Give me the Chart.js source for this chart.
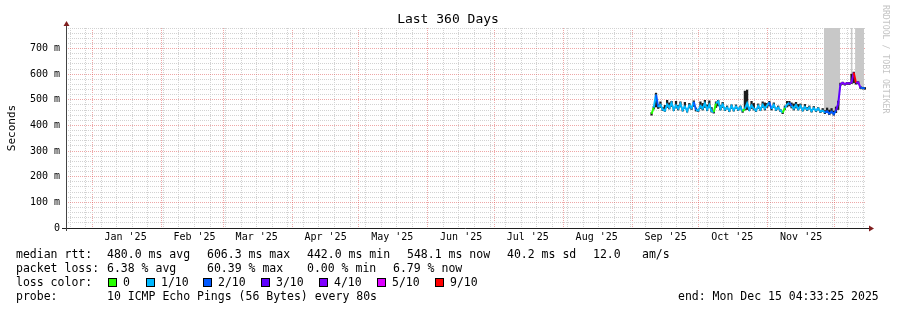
<!DOCTYPE html>
<html>
<head>
<meta charset="utf-8">
<script src="https://cdn.jsdelivr.net/npm/chart.js@4/dist/chart.umd.min.js"></script>
<style>
  html, body { margin: 0; padding: 0; background: #fff; }
  #wrap { width: 897px; height: 310px; }
</style>
</head>
<body>
<div id="wrap"><canvas id="rttChart" width="897" height="310"></canvas></div>
<script>
// ---- data (x = days since window start, y = ms) ----
const sampleDays = [
  263.5, 264.5, 265.5, 266.5, 267.5, 268.5, 269.5, 270.5, 271.5, 272.5,
  273.5, 274.5, 275.5, 276.5, 277.5, 278.5, 279.5, 280.5, 281.5, 282.5,
  283.5, 284.5, 285.5, 286.5, 287.5, 288.5, 289.5, 290.5, 291.5, 292.5,
  293.5, 294.5, 295.5, 296.5, 297.5, 298.5, 299.5, 300.5, 301.5, 302.5,
  303.5, 304.5, 305.5, 306.5, 307.5, 308.5, 309.5, 310.5, 311.5, 312.5,
  313.5, 314.5, 315.5, 316.5, 317.5, 318.5, 319.5, 320.5, 321.5, 322.5,
  323.5, 324.5, 325.5, 326.5, 327.5, 328.5, 329.5, 330.5, 331.5, 332.5,
  333.5, 334.5, 335.5, 336.5, 337.5, 338.5, 339.5, 340.5, 341.5, 342.5,
  343.5, 344.5, 345.5, 346.5, 347.5, 348.5, 349.5, 350.5, 351.5, 352.5,
  353.5, 354.5, 355.5, 356.5, 357.5, 358.5, 359.5
];
const medianRtt = [
  445, 470, 520, 472, 480, 462, 458, 482, 470, 488,
  462, 478, 466, 484, 460, 474, 456, 478, 468, 492,
  460, 458, 476, 466, 486, 462, 480, 456, 452, 486,
  494, 466, 482, 462, 470, 458, 476, 460, 474, 462,
  472, 455, 465, 486, 462, 478, 466, 458, 476, 462,
  480, 466, 478, 490, 464, 480, 462, 470, 458, 450,
  468, 482, 488, 476, 466, 480, 464, 476, 460, 472,
  462, 470, 456, 468, 458, 466, 454, 458, 450, 455,
  446, 454, 444, 458, 485, 562, 566, 561, 565, 563,
  568, 606, 566, 568, 548, 546, 545
];
const smokeLow = [
  440, 464, 472, 466, 470, 458, 455, 470, 464, 474,
  458, 468, 460, 472, 456, 466, 452, 468, 462, 474,
  456, 454, 466, 460, 470, 458, 470, 452, 448, 470,
  476, 460, 470, 458, 464, 454, 466, 456, 466, 458,
  464, 451, 460, 462, 458, 466, 460, 454, 466, 458,
  470, 460, 470, 476, 460, 470, 458, 464, 454, 446,
  462, 472, 476, 468, 460, 468, 460, 468, 456, 464,
  458, 464, 452, 462, 454, 460, 450, 454, 446, 450,
  442, 448, 440, 450, 462, 556, 560, 557, 560, 559,
  563, 566, 561, 562, 544, 542, 541
];
const smokeHigh = [
  450, 474, 526, 480, 492, 470, 478, 498, 488, 494,
  470, 494, 478, 492, 466, 490, 464, 486, 474, 496,
  468, 462, 492, 486, 498, 480, 496, 470, 456, 492,
  498, 478, 490, 468, 476, 462, 480, 466, 480, 468,
  476, 460, 534, 538, 470, 494, 486, 464, 484, 470,
  492, 488, 486, 494, 470, 488, 468, 476, 462, 454,
  476, 494, 494, 488, 484, 490, 482, 484, 468, 482,
  470, 476, 462, 474, 462, 470, 458, 466, 458, 468,
  460, 466, 456, 472, 495, 565, 569, 565, 568, 568,
  600, 608, 570, 571, 552, 549, 548
];
const lossTenths = [
  0, 1, 2, 1, 1, 1, 1, 1, 1, 1,
  1, 1, 1, 1, 1, 1, 1, 1, 1, 2,
  1, 1, 1, 1, 1, 1, 1, 1, 0, 1,
  1, 1, 1, 1, 1, 1, 1, 1, 1, 1,
  1, 0, 1, 1, 1, 1, 1, 1, 1, 1,
  1, 1, 1, 2, 1, 1, 1, 1, 1, 0,
  1, 1, 2, 1, 1, 1, 1, 1, 1, 1,
  1, 1, 1, 1, 1, 1, 1, 1, 2, 2,
  2, 2, 2, 3, 3, 4, 4, 4, 4, 4,
  4, 9, 4, 4, 2, 2, 1
];
// slow-ping smoke that runs off the top of the graph (null = gap)
const overflowDays = [341.1, 342.5, 343.5, 344.5, 345.5, 346.5, 347.5, 348.3, 348.6, 353.1, 354.0, 354.5, 355.1, 356.5, 357.5, 359.1];
const overflowLow  = [456, 451, 449, 453, 447, 459, 470, 480, null, 570, 570, null, 570, 568, 552, 550];

const monthLabels = ["Jan '25", "Feb '25", "Mar '25", "Apr '25", "May '25", "Jun '25",
                     "Jul '25", "Aug '25", "Sep '25", "Oct '25", "Nov '25"];
const yLabelValues = [0, 100, 200, 300, 400, 500, 600, 700];

const lossKeys = ['0', '1/10', '2/10', '3/10', '4/10', '5/10', '9/10'];
const lossKeyColors = ['#26ff00', '#00b8ff', '#0059ff', '#5e00ff', '#7e00ff', '#dd00ff', '#ff0000'];

function lossColor(n) {
  if (n >= 9) return lossKeyColors[6];
  if (n >= 5) return lossKeyColors[5];
  return lossKeyColors[n];
}

// ---- time axis helpers ----
const DAY = 86400000;
const windowStart = Date.UTC(2024, 11, 20, 4, 33, 25);
const dayOf = t => (t - windowStart) / DAY;

function buildXTicks() {
  const items = [];
  for (let m = 0; m < 12; m++) items.push({ value: dayOf(Date.UTC(2025, m, 1)), kind: 'month', label: '' });
  monthLabels.forEach((lab, m) => items.push({ value: dayOf(Date.UTC(2025, m, 16)), kind: 'label', label: lab }));
  for (let t = Date.UTC(2024, 11, 22); dayOf(t) <= 360; t += 7 * DAY) {
    const v = dayOf(t);
    if (!items.some(it => it.kind === 'month' && Math.abs(it.value - v) < 1e-6)) {
      items.push({ value: v, kind: 'week', label: '' });
    }
  }
  return items.filter(it => it.value >= 0 && it.value <= 360).sort((a, b) => a.value - b.value);
}
const xTicks = buildXTicks();

const yTicks = [];
for (let v = 0; v <= 780; v += 20) yTicks.push(v);

const MONO = 'DejaVu Sans Mono';
const MINOR = '#d2d2d2';
const MAJOR = 'rgba(222,79,79,0.5)';

// ---- text, axes and arrows the way rrdtool draws them ----
const rrdDecor = {
  id: 'rrdDecor',
  beforeDraw(chart) {
    const c = chart.ctx;
    c.save();
    c.fillStyle = '#fff';
    c.fillRect(0, 0, chart.width, chart.height);
    c.restore();
  },
  afterDraw(chart) {
    const c = chart.ctx;
    const a = chart.chartArea;
    c.save();

    // axes
    c.lineWidth = 1;
    c.strokeStyle = '#1f1f1f';
    c.beginPath();
    c.moveTo(a.left - 4, a.bottom + 0.5);
    c.lineTo(a.right + 3, a.bottom + 0.5);
    c.stroke();
    c.strokeStyle = '#444';
    c.beginPath();
    c.moveTo(a.left + 0.5, a.bottom + 3);
    c.lineTo(a.left + 0.5, a.top - 3);
    c.stroke();
    c.fillStyle = '#801f1f';
    c.beginPath();
    c.moveTo(a.left - 2.5, a.top - 2);
    c.lineTo(a.left + 3.5, a.top - 2);
    c.lineTo(a.left + 0.5, a.top - 7);
    c.closePath();
    c.fill();
    c.beginPath();
    c.moveTo(a.right + 3, a.bottom - 2.5);
    c.lineTo(a.right + 3, a.bottom + 3.5);
    c.lineTo(a.right + 8, a.bottom + 0.5);
    c.closePath();
    c.fill();

    // title
    c.fillStyle = '#000';
    c.font = '13px ' + MONO;
    c.textAlign = 'center';
    c.textBaseline = 'alphabetic';
    c.fillText('Last 360 Days', 448, 23);

    // y axis title
    c.save();
    c.font = '11px ' + MONO;
    c.translate(14.5, 128);
    c.rotate(-Math.PI / 2);
    c.textBaseline = 'alphabetic';
    c.fillText('Seconds', 0, 0);
    c.restore();

    // watermark
    c.save();
    c.font = '8.2px ' + MONO;
    c.fillStyle = '#c4c4c4';
    c.translate(883, 5);
    c.rotate(Math.PI / 2);
    c.textAlign = 'left';
    c.textBaseline = 'alphabetic';
    c.fillText('RRDTOOL / TOBI OETIKER', 0, 0);
    c.restore();

    // legend
    c.font = '11.5px ' + MONO;
    c.textAlign = 'left';
    c.textBaseline = 'alphabetic';
    c.fillStyle = '#000';
    const rows = [
      [258, [[16, 'median rtt:'], [107, '480.0 ms avg'], [207, '606.3 ms max'], [307, '442.0 ms min'],
             [407, '548.1 ms now'], [507, '40.2 ms sd'], [593, '12.0'], [642, 'am/s']]],
      [272, [[16, 'packet loss:'], [107, '6.38 % avg'], [207, '60.39 % max'], [307, '0.00 % min'], [393, '6.79 % now']]],
      [286, [[16, 'loss color:']]],
      [300, [[16, 'probe:'], [107, '10 ICMP Echo Pings (56 Bytes) every 80s'], [678, 'end: Mon Dec 15 04:33:25 2025']]]
    ];
    rows.forEach(([y, parts]) => parts.forEach(([x, txt]) => c.fillText(txt, x, y)));

    const boxX = [108, 146, 203, 261, 319, 377, 435];
    lossKeys.forEach((k, i) => {
      c.fillStyle = lossKeyColors[i];
      c.fillRect(boxX[i] + 0.5, 278.5, 8, 8);
      c.strokeStyle = '#000';
      c.strokeRect(boxX[i] + 0.5, 278.5, 8, 8);
      c.fillStyle = '#000';
      c.fillText(k, boxX[i] + 15, 286);
    });
    c.restore();
  }
};

const ctx = document.getElementById('rttChart').getContext('2d');
const rttChart = new Chart(ctx, {
  type: 'line',
  data: {
    datasets: [
      {
        type: 'line',
        label: 'median',
        order: 0,
        data: sampleDays.map((d, i) => ({ x: d, y: medianRtt[i] })),
        borderColor: lossKeyColors[1],
        borderWidth: 2,
        pointRadius: 0,
        tension: 0,
        fill: false,
        segment: {
          borderColor: s => lossColor(lossTenths[s.p0DataIndex])
        }
      },
      {
        type: 'bar',
        label: 'smoke',
        order: 1,
        data: sampleDays.map((d, i) => ({ x: d, y: [smokeLow[i], smokeHigh[i]] })),
        backgroundColor: '#1c1c1c',
        borderWidth: 0,
        barThickness: 1.6,
        grouped: false
      },
      {
        type: 'line',
        label: 'overflow',
        order: 2,
        data: overflowDays.map((d, i) => ({ x: d, y: overflowLow[i] })),
        borderWidth: 0,
        borderColor: 'rgba(0,0,0,0)',
        backgroundColor: '#c8c8c8',
        pointRadius: 0,
        tension: 0,
        spanGaps: false,
        fill: 'end'
      }
    ]
  },
  options: {
    responsive: false,
    animation: false,
    devicePixelRatio: 1,
    layout: { padding: { left: 0, top: 28, right: 31, bottom: 62 } },
    plugins: {
      legend: { display: false },
      tooltip: { enabled: false }
    },
    scales: {
      x: {
        type: 'linear',
        min: 0,
        max: 360,
        offset: false,
        afterBuildTicks: s => { s.ticks = xTicks.map(t => ({ value: t.value })); },
        afterFit: s => { s.height = 20; },
        ticks: {
          autoSkip: false,
          maxRotation: 0,
          padding: 3,
          color: '#000',
          font: { family: MONO, size: 10 },
          callback: (v, i) => xTicks[i] ? xTicks[i].label : ''
        },
        grid: {
          offset: false,
          drawTicks: false,
          lineWidth: 1,
          color: g => {
            const t = xTicks[g.index];
            if (!t || t.kind === 'label') return 'rgba(0,0,0,0)';
            return t.kind === 'month' ? MAJOR : MINOR;
          }
        },
        border: { display: false, dash: [1, 1] }
      },
      y: {
        type: 'linear',
        min: 0,
        max: 780,
        afterBuildTicks: s => { s.ticks = yTicks.map(v => ({ value: v })); },
        afterFit: s => { s.width = 66; },
        ticks: {
          autoSkip: false,
          padding: 6,
          color: '#000',
          font: { family: MONO, size: 10 },
          callback: v => yLabelValues.includes(v) ? (v === 0 ? '0' : v + ' m') : ''
        },
        grid: {
          drawTicks: false,
          lineWidth: 1,
          color: g => (g.tick && g.tick.value % 100 === 0) ? MAJOR : MINOR
        },
        border: { display: false, dash: [1, 1] }
      }
    }
  },
  plugins: [rrdDecor]
});
</script>
</body>
</html>
